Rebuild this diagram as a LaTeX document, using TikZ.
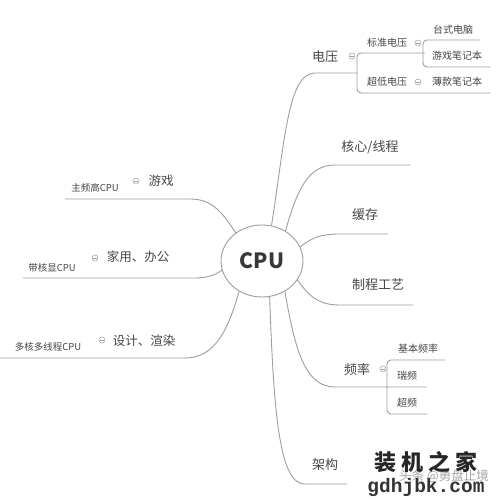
\documentclass[tikz,border=0pt]{standalone}
\usepackage{fontspec}
\setmainfont{Noto Sans CJK SC}
\newfontfamily\wmmono{Liberation Mono}
\usetikzlibrary{shapes.geometric}
\definecolor{linegray}{RGB}{158,158,158}
\definecolor{txt}{RGB}{70,70,70}
\begin{document}
\begin{tikzpicture}[x=1pt,y=-1pt,
  conn/.style={draw=linegray,line width=0.9pt},
  brk/.style={conn,rounded corners=4pt},
  mainlbl/.style={text=txt,font=\fontsize{13}{15}\selectfont,inner sep=0pt},
  sublbl/.style={text=txt,font=\fontsize{10}{12}\selectfont,inner sep=0pt},
  leaflbl/.style={text=txt,font=\fontsize{10}{12}\selectfont,inner sep=0pt},
  leftleaf/.style={text=txt,font=\fontsize{12.5}{14}\selectfont,inner sep=0pt},
  leftcpu/.style={text=txt,font=\fontsize{9.5}{11}\selectfont,inner sep=0pt},
  tog/.style={circle,draw=linegray,line width=0.5pt,minimum size=6pt,inner sep=0pt,
    path picture={\draw[linegray,line width=0.5pt]
      ([xshift=-1.7pt]path picture bounding box.center) --
      ([xshift=1.7pt]path picture bounding box.center);}}]
\fill[white] (0,0) rectangle (500,500);
\useasboundingbox (0,0) rectangle (500,500);

% central node
\node[ellipse,draw=linegray,line width=0.9pt,minimum width=82pt,minimum height=72pt,
  inner sep=0pt,text=txt!80!black,font=\fontsize{21}{24}\selectfont\bfseries] (cpu) at (262,261) {CPU};

% ---------- right side ----------
% 电压
\node[mainlbl] (dy) at (325,57) {电压};
\node[tog] (dyt) at (352,56) {};
\coordinate (dyA) at (315,73);
\coordinate (dyB) at (357,73);
\draw[conn] (cpu.75) .. controls (285,140) and (288,73) .. (dyA) -- (dyB);
\coordinate (bzA) at (425,53);
\coordinate (bzB) at (357,53);
\coordinate (bzC) at (357,93);
\coordinate (bzD) at (490,93);
\draw[brk] (bzA) -- (bzB) -- (bzC) -- (bzD);
\node[sublbl] (bzdy) at (387,43) {标准电压};
\node[tog] (bzt) at (418,43) {};
\node[sublbl] (cddy) at (387,82) {超低电压};
\node[tog] (cdt) at (418,82) {};
\coordinate (tsA) at (480,40);
\coordinate (tsB) at (423,40);
\coordinate (tsC) at (423,67);
\coordinate (tsD) at (490,67);
\draw[brk] (tsA) -- (tsB) -- (tsC) -- (tsD);
\node[leaflbl] (tsdn) at (453,30) {台式电脑};
\node[leaflbl] (yxbjb) at (457,56) {游戏笔记本};
\node[leaflbl] (bkbjb) at (457,82) {薄款笔记本};

% 核心/线程
\node[mainlbl] (hx) at (370,147) {核心/线程};
\coordinate (hxA) at (335,165);
\coordinate (hxB) at (410,165);
\draw[conn] (cpu.52) .. controls (297,190) and (308,165) .. (hxA) -- (hxB);

% 缓存
\node[mainlbl] (hc) at (365,215) {缓存};
\coordinate (hcA) at (340,234);
\coordinate (hcB) at (388,234);
\draw[conn] (cpu.20) .. controls (312,237) and (322,234) .. (hcA) -- (hcB);

% 制程工艺
\node[mainlbl] (zc) at (378,285) {制程工艺};
\coordinate (zcA) at (340,305);
\coordinate (zcB) at (413,305);
\draw[conn] (cpu.-28) .. controls (310,298) and (320,305) .. (zcA) -- (zcB);

% 频率
\node[mainlbl] (pl) at (357,370) {频率};
\node[tog] (plt) at (383,369) {};
\coordinate (plA) at (335,387);
\coordinate (plB) at (427,387);
\draw[conn] (cpu.-53) .. controls (295,350) and (305,387) .. (plA) -- (plB);
\coordinate (jbA) at (445,360);
\coordinate (jbB) at (387,360);
\coordinate (jbC) at (387,414);
\coordinate (jbD) at (427,414);
\draw[brk] (jbA) -- (jbB) -- (jbC) -- (jbD);
\node[leaflbl] (jbpl) at (418,349) {基本频率};
\node[leaflbl] (rp) at (407,376) {瑞频};
\node[leaflbl] (cp) at (407,403) {超频};

% 架构
\node[mainlbl] (jg) at (325,465) {架构};
\coordinate (jgA) at (305,484);
\coordinate (jgB) at (347,484);
\draw[conn] (cpu.-78) .. controls (274,420) and (280,484) .. (jgA) -- (jgB);

% ---------- left side ----------
\node[leftcpu] (zpg) at (95,188) {主频高CPU};
\node[tog] (zpgt) at (136,181) {};
\node[leftleaf] (yx) at (161,181) {游戏};
\coordinate (zpA) at (190,199);
\coordinate (zpB) at (65,199);
\draw[conn] (cpu.133) .. controls (222,212) and (212,199) .. (zpA) -- (zpB);

\node[leftcpu] (dhx) at (52,268) {带核显CPU};
\node[tog] (dhxt) at (95,258) {};
\node[leftleaf] (jy) at (138,257) {家用、办公};
\coordinate (dhA) at (195,278);
\coordinate (dhB) at (23,278);
\draw[conn] (cpu.193) .. controls (214,276) and (205,278) .. (dhA) -- (dhB);

\node[leftcpu] (dhd) at (48,347) {多核多线程CPU};
\node[tog] (dhdt) at (102,340) {};
\node[leftleaf] (sj) at (144,341) {设计、渲染};
\coordinate (dkA) at (185,358);
\coordinate (dkB) at (0,358);
\draw[conn] (cpu.233) .. controls (228,330) and (215,358) .. (dkA) -- (dkB);

% ---------- watermark ----------
\node[text=black!35,font=\fontsize{12.5}{14}\selectfont,inner sep=0pt] (wm3) at (444,476) {头条 @勇盘止境};
\node[text=black!85,font=\fontsize{22}{24}\selectfont\bfseries,inner sep=0pt] (wm1) at (426,462)
  {装\hspace{5pt}机\hspace{5pt}之\hspace{5pt}家};
\node[text=black!80,font=\wmmono\bfseries\fontsize{19.5}{21}\selectfont,inner sep=0pt] (wm2) at (426,487) {gdhjbk.com};
\end{tikzpicture}
\end{document}
